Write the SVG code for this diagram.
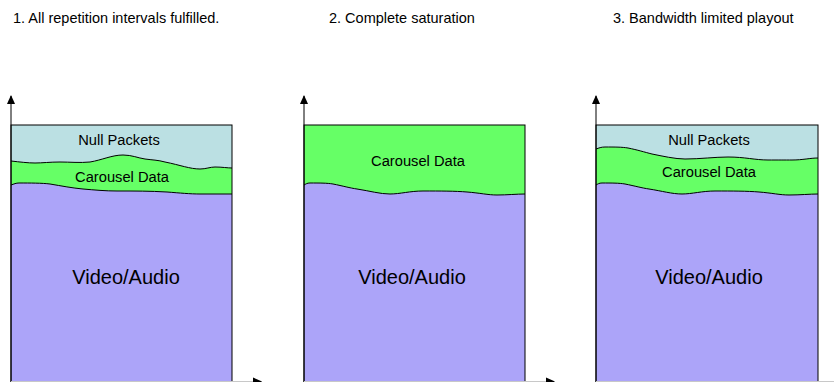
<svg xmlns="http://www.w3.org/2000/svg" width="834" height="382" viewBox="0 0 834 382">
  <style>
    .title { font-family: "Liberation Sans", Arial, sans-serif; font-size: 14.5px; fill: #000; }
    .lbl { font-family: "Liberation Sans", Arial, sans-serif; font-size: 14.7px; fill: #000; text-anchor: middle; }
    .big { font-family: "Liberation Sans", Arial, sans-serif; font-size: 20px; fill: #000; text-anchor: middle; }
    .null { fill: #BBE0E3; }
    .carousel { fill: #66FF66; }
    .video { fill: #ACA4F9; }
    .wave { fill: none; stroke: #000; stroke-width: 1; }
    .frame { fill: none; stroke: #000; stroke-width: 1; }
    .yaxis { stroke: #000; stroke-width: 1; }
    .xaxis { stroke: #C8C8C8; stroke-width: 1; }
  </style>
  <defs>
    <marker id="arrow" markerWidth="10" markerHeight="10" refX="8" refY="4" orient="auto" markerUnits="userSpaceOnUse">
      <path d="M0,0 L9,4 L0,8 Z" fill="#000"/>
    </marker>
  </defs>

  <!-- captions -->
  <text class="title" x="13" y="23">1. All repetition intervals fulfilled.</text>
  <text class="title" x="329" y="23">2. Complete saturation</text>
  <text class="title" x="613" y="23">3. Bandwidth limited playout</text>

  <!-- panel 1 -->
  <g id="panel1">
    <rect class="null" x="11" y="125" width="221" height="260"/>
    <path class="carousel" d="M11,161 C20,162 28,163 35,163 C42,163 50,162 60,162 C70,162 80,163 90,162 C102,160 112,155 123,155 C132,155 138,158 145,159 C152,160 158,160 165,162 C180,165 190,169 200,169 C206,169 210,167 215,167 C222,167 228,168 232,168 L232,385 L11,385 Z"/>
    <path class="video" d="M11,185 C14,184 16,183 19,183 C30,183 42,183 50,184 C62,186 72,188 83,189 C95,190 105,191 117,191 C135,191 150,191 167,192 C180,193 190,194 200,194 L232,194 L232,385 L11,385 Z"/>
    <path class="wave" d="M11,161 C20,162 28,163 35,163 C42,163 50,162 60,162 C70,162 80,163 90,162 C102,160 112,155 123,155 C132,155 138,158 145,159 C152,160 158,160 165,162 C180,165 190,169 200,169 C206,169 210,167 215,167 C222,167 228,168 232,168"/>
    <path class="wave" d="M11,185 C14,184 16,183 19,183 C30,183 42,183 50,184 C62,186 72,188 83,189 C95,190 105,191 117,191 C135,191 150,191 167,192 C180,193 190,194 200,194 L232,194"/>
    <rect class="frame" x="11" y="125" width="221" height="260"/>
    <text class="lbl" x="119" y="145">Null Packets</text>
    <text class="lbl" x="122" y="182">Carousel Data</text>
    <text class="big" x="126" y="284">Video/Audio</text>
  </g>

  <!-- panel 2 -->
  <g id="panel2">
    <rect class="carousel" x="304" y="125" width="221" height="260"/>
    <path class="video" d="M304,185 C306,184 307,183 310,183 C320,183 327,183 333,184 C343,186 350,188 357,189 C370,191 380,194 390,194 C400,194 410,191 423,191 C440,191 455,191 467,192 C480,193 488,195 497,195 C507,195 517,194 525,194 L525,385 L304,385 Z"/>
    <path class="wave" d="M304,185 C306,184 307,183 310,183 C320,183 327,183 333,184 C343,186 350,188 357,189 C370,191 380,194 390,194 C400,194 410,191 423,191 C440,191 455,191 467,192 C480,193 488,195 497,195 C507,195 517,194 525,194"/>
    <rect class="frame" x="304" y="125" width="221" height="260"/>
    <text class="lbl" x="418" y="166">Carousel Data</text>
    <text class="big" x="412" y="284">Video/Audio</text>
  </g>

  <!-- panel 3 -->
  <g id="panel3">
    <rect class="null" x="596" y="125" width="222" height="260"/>
    <path class="carousel" d="M596,149 C599,148 601,147 605,147 C615,147 622,147 628,148 C638,150 644,152 652,154 C662,156 675,159 685,159 C700,159 715,157 728,157 C745,157 755,160 768,160 C778,160 785,160 792,160 C803,160 810,158 818,158 L818,385 L596,385 Z"/>
    <path class="video" d="M596,185 C598,184 599,183 602,183 C612,183 619,183 625,184 C635,186 642,188 649,189 C662,191 672,194 682,194 C692,194 702,191 715,191 C732,191 747,191 759,192 C772,193 780,195 789,195 C800,195 810,194 818,194 L818,385 L596,385 Z"/>
    <path class="wave" d="M596,149 C599,148 601,147 605,147 C615,147 622,147 628,148 C638,150 644,152 652,154 C662,156 675,159 685,159 C700,159 715,157 728,157 C745,157 755,160 768,160 C778,160 785,160 792,160 C803,160 810,158 818,158"/>
    <path class="wave" d="M596,185 C598,184 599,183 602,183 C612,183 619,183 625,184 C635,186 642,188 649,189 C662,191 672,194 682,194 C692,194 702,191 715,191 C732,191 747,191 759,192 C772,193 780,195 789,195 C800,195 810,194 818,194"/>
    <rect class="frame" x="596" y="125" width="222" height="260"/>
    <text class="lbl" x="709" y="145">Null Packets</text>
    <text class="lbl" x="709" y="177">Carousel Data</text>
    <text class="big" x="709" y="284">Video/Audio</text>
  </g>

  <!-- axes -->
  <g id="connectors">
    <line class="yaxis" x1="11" y1="385" x2="11" y2="96" marker-end="url(#arrow)"/>
    <line class="yaxis" x1="304" y1="385" x2="304" y2="96" marker-end="url(#arrow)"/>
    <line class="yaxis" x1="596" y1="385" x2="596" y2="96" marker-end="url(#arrow)"/>
    <line class="xaxis" x1="11" y1="381.5" x2="262" y2="381.5"/>
    <line class="xaxis" x1="304" y1="381.5" x2="554" y2="381.5"/>
    <line class="xaxis" x1="596" y1="381.5" x2="834" y2="381.5"/>
    <path d="M253,377.5 L262,381.5 L253,385.5 Z" fill="#000"/>
    <path d="M546,377.5 L555,381.5 L546,385.5 Z" fill="#000"/>
  </g>
</svg>
